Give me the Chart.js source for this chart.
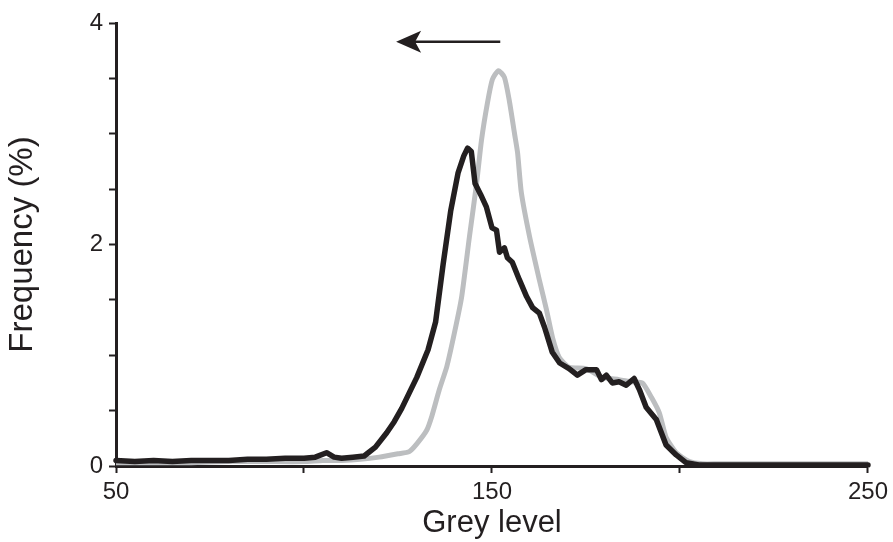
<!DOCTYPE html>
<html>
<head>
<meta charset="utf-8">
<script src="https://cdn.jsdelivr.net/npm/chart.js@4.4.1/dist/chart.umd.min.js"></script>
<style>
  html, body { margin: 0; padding: 0; background: #fff; }
  canvas { display: block; }
</style>
</head>
<body>
<canvas id="chart" width="893" height="542"></canvas>
<script>
// dark curve (after treatment)
const darkLevels = [50, 55, 60, 65, 70, 75, 80, 85, 90, 95, 100, 103, 106, 108, 110, 113, 116, 119, 122, 124,
  126, 128, 130, 133, 135, 137, 139, 141, 142.5, 143.5, 144.5, 145.5, 147, 148.5, 150, 151.2, 152, 153.3, 154.1, 155.4,
  157.3, 159.2, 160.8, 162.6, 164, 166, 168, 170.5, 172.7, 175, 177.8, 179.1, 180.4, 182, 183.8, 185.7, 187.8, 189.2,
  191, 193.7, 196.3, 199, 201.6, 205, 210, 220, 230, 240, 250];
const darkFreq = [0.05, 0.04, 0.05, 0.04, 0.05, 0.05, 0.05, 0.06, 0.06, 0.07, 0.07, 0.08, 0.12, 0.08, 0.07, 0.08, 0.09, 0.17, 0.30, 0.40,
  0.52, 0.66, 0.80, 1.05, 1.30, 1.82, 2.30, 2.65, 2.80, 2.87, 2.84, 2.55, 2.45, 2.34, 2.15, 2.13, 1.93, 1.97, 1.88, 1.84,
  1.68, 1.53, 1.43, 1.38, 1.25, 1.03, 0.93, 0.88, 0.82, 0.87, 0.87, 0.78, 0.82, 0.75, 0.76, 0.73, 0.79, 0.69,
  0.53, 0.42, 0.19, 0.10, 0.03, 0.01, 0.01, 0.01, 0.01, 0.01, 0.01];

// light curve (before)
const lightLevels = [50, 60, 70, 80, 90, 100, 105, 110, 115, 120, 125, 128, 130, 132.6, 134, 136, 138, 140, 141.9, 144,
  145.9, 147.2, 148.8, 150.1, 151.7, 153.3, 154.6, 156, 156.8, 157.8, 160, 162.6, 164.5, 166.1, 167.9, 170.6, 175, 179.3,
  183.8, 187.3, 190, 192.4, 194.5, 196.3, 199, 202.5, 206, 210, 220, 230, 240, 250];
const lightFreq = [0.03, 0.03, 0.03, 0.04, 0.04, 0.04, 0.05, 0.05, 0.06, 0.08, 0.11, 0.13, 0.20, 0.32, 0.45, 0.69, 0.90, 1.20, 1.52, 2.07,
  2.55, 2.94, 3.28, 3.49, 3.57, 3.51, 3.30, 3.00, 2.83, 2.47, 2.07, 1.68, 1.41, 1.16, 0.98, 0.89, 0.88, 0.80,
  0.78, 0.76, 0.75, 0.62, 0.48, 0.26, 0.12, 0.04, 0.02, 0.02, 0.02, 0.02, 0.02, 0.02];

const xTickLabels = [50, 150, 250];
const yTickLabels = [0, 2, 4];

// shift arrow, in data units
const arrowFrom = 152.2;
const arrowTo = 124.5;
const arrowLevel = 3.83;

const ink = '#231f20';
const toPoints = (xs, ys) => xs.map((x, i) => ({ x: x, y: ys[i] }));

const arrowPlugin = {
  id: 'shiftArrow',
  afterDatasetsDraw(chart) {
    const { ctx, scales: { x, y } } = chart;
    const x0 = x.getPixelForValue(arrowFrom);
    const x1 = x.getPixelForValue(arrowTo);
    const py = y.getPixelForValue(arrowLevel);
    ctx.save();
    ctx.strokeStyle = ink;
    ctx.fillStyle = ink;
    ctx.lineWidth = 2.5;
    ctx.beginPath();
    ctx.moveTo(x0, py);
    ctx.lineTo(x1 + 15, py);
    ctx.stroke();
    ctx.beginPath();
    ctx.moveTo(x1, py);
    ctx.lineTo(x1 + 25, py - 11);
    ctx.lineTo(x1 + 19, py);
    ctx.lineTo(x1 + 25, py + 11);
    ctx.closePath();
    ctx.fill();
    ctx.restore();
  }
};

new Chart(document.getElementById('chart'), {
  type: 'line',
  data: {
    datasets: [
      {
        label: 'Dark',
        data: toPoints(darkLevels, darkFreq),
        borderColor: ink,
        borderWidth: 5.5,
        borderJoinStyle: 'round',
        borderCapStyle: 'round',
        pointRadius: 0,
        tension: 0,
        fill: false,
        order: 1
      },
      {
        label: 'Light',
        data: toPoints(lightLevels, lightFreq),
        borderColor: '#bcbec0',
        borderWidth: 5,
        borderJoinStyle: 'round',
        pointRadius: 0,
        tension: 0.2,
        fill: false,
        order: 2
      }
    ]
  },
  options: {
    responsive: false,
    animation: false,
    clip: false,
    layout: { padding: { top: 23, right: 24, bottom: 0, left: 0 } },
    plugins: {
      legend: { display: false },
      tooltip: { enabled: false }
    },
    scales: {
      x: {
        type: 'linear',
        min: 50,
        max: 250,
        afterFit: (scale) => { scale.height = 76; },
        border: { display: true, color: ink, width: 3 },
        grid: { display: true, drawOnChartArea: false, tickLength: 7, tickColor: ink, tickWidth: 2 },
        ticks: {
          stepSize: 50,
          maxRotation: 0,
          padding: 5,
          color: ink,
          font: { family: 'Liberation Sans, Arial, sans-serif', size: 24 },
          callback: (v) => (xTickLabels.includes(v) ? String(v) : '')
        },
        title: {
          display: true,
          text: 'Grey level',
          color: ink,
          font: { family: 'Liberation Sans, Arial, sans-serif', size: 31, lineHeight: 1.2 },
          padding: { top: 0, bottom: 0 }
        }
      },
      y: {
        type: 'linear',
        min: 0,
        max: 4,
        afterFit: (scale) => { scale.width = 116; },
        border: { display: true, color: ink, width: 3 },
        grid: { display: true, drawOnChartArea: false, tickLength: 7, tickColor: ink, tickWidth: 2 },
        ticks: {
          stepSize: 0.5,
          padding: 6,
          color: ink,
          font: { family: 'Liberation Sans, Arial, sans-serif', size: 24 },
          callback: (v) => (yTickLabels.includes(v) ? String(v) : '')
        },
        title: {
          display: true,
          text: 'Frequency (%)',
          color: ink,
          font: { family: 'Liberation Sans, Arial, sans-serif', size: 33, lineHeight: 1.2 },
          padding: { top: 3, bottom: 0 }
        }
      }
    }
  },
  plugins: [arrowPlugin]
});
</script>
</body>
</html>
